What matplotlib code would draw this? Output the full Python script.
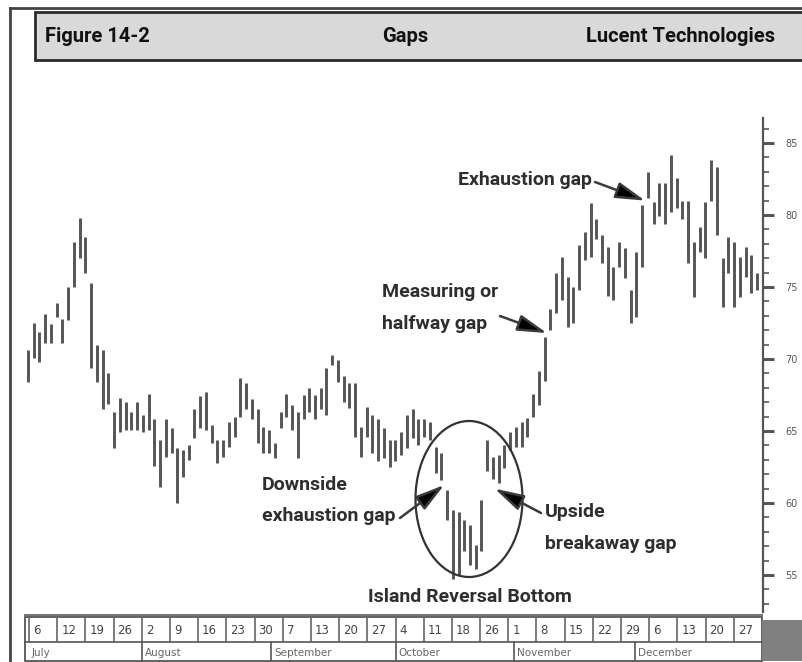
import matplotlib
matplotlib.use("Agg")
import matplotlib.pyplot as plt
from matplotlib.patches import Rectangle, Ellipse, FancyArrowPatch
import numpy as np

# ---------------- data ----------------
highs = [70.6, 72.5, 71.9, 73.1, 72.4, 73.9, 72.8, 75.0, 78.1, 79.8,
         78.5, 75.3, 71.0, 70.6, 69.0, 66.3, 67.3, 67.0, 66.3, 67.0,
         66.1, 67.6, 65.8, 64.4, 65.8, 65.2, 63.8, 63.7, 64.0, 66.5,
         67.4, 67.7, 65.4, 64.4, 64.4, 65.6, 66.0, 68.7, 68.3, 67.2,
         66.5, 65.3, 65.1, 64.2, 66.3, 67.6, 66.8, 66.3, 67.5, 68.0,
         67.5, 68.0, 69.4, 70.3, 69.9, 68.8, 68.3, 68.3, 65.3, 66.7,
         66.1, 65.8, 65.2, 64.4, 64.4, 64.9, 66.1, 66.5, 65.8, 65.8,
         65.6, 63.9, 63.5, 60.9, 59.5, 59.4, 58.8, 58.5, 57.1, 60.2,
         64.4, 63.2, 63.3, 64.0, 64.9, 65.3, 65.6, 65.9, 67.6, 69.2,
         71.5, 73.5, 76.0, 77.1, 75.7, 75.0, 77.9, 78.8, 80.8, 79.7,
         78.6, 77.8, 76.4, 78.1, 77.7, 74.8, 77.4, 80.7, 83.0, 80.9,
         82.2, 82.2, 84.2, 82.6, 81.0, 81.0, 78.1, 79.2, 80.9, 83.8,
         83.3, 77.0, 78.5, 78.1, 77.1, 77.8, 77.2, 76.0]
lows = [68.4, 70.1, 69.8, 71.1, 71.1, 72.9, 71.1, 72.7, 75.0, 77.0,
        76.0, 69.4, 68.4, 66.5, 66.9, 63.8, 64.9, 65.1, 65.1, 65.1,
        64.9, 65.1, 62.6, 61.1, 63.2, 63.5, 60.0, 61.8, 63.0, 64.5,
        65.2, 65.1, 64.2, 62.8, 63.2, 63.9, 64.6, 66.0, 66.5, 65.8,
        64.2, 63.5, 63.5, 63.1, 65.2, 66.0, 65.1, 63.1, 65.8, 66.3,
        65.8, 66.5, 66.1, 69.6, 68.4, 67.0, 66.6, 64.6, 63.2, 64.6,
        63.5, 62.9, 63.1, 62.5, 62.9, 63.3, 63.8, 64.5, 64.0, 64.6,
        64.4, 62.1, 61.6, 58.8, 54.7, 55.0, 56.7, 55.7, 55.4, 56.7,
        62.2, 61.7, 61.4, 62.4, 63.7, 63.9, 63.9, 64.6, 66.0, 66.8,
        68.5, 72.0, 73.2, 74.1, 72.2, 72.5, 74.8, 76.9, 77.1, 78.3,
        76.7, 74.4, 74.1, 76.4, 75.6, 72.5, 72.9, 76.4, 81.2, 79.4,
        79.9, 79.4, 80.2, 80.5, 79.7, 76.7, 74.3, 77.4, 77.0, 81.0,
        78.6, 73.6, 76.0, 73.6, 74.3, 75.7, 74.6, 74.8]

week_labels = ['6', '12', '19', '26', '2', '9', '16', '23', '30', '7', '13', '20', '27',
               '4', '11', '18', '26', '1', '8', '15', '22', '29', '6', '13', '20', '27']
months = ['July', 'August', 'September', 'October', 'November', 'December']
month_start_week = [0, 4, 8.6, 13, 17.2, 21.5]
price_ticks = [55, 60, 65, 70, 75, 80, 85]

title_left = 'Figure 14-2'
title_mid = 'Gaps'
title_right = 'Lucent Technologies'

# ---------------- figure ----------------
W, H = 802, 662
fig = plt.figure(figsize=(W / 100, H / 100), dpi=100)
fig.patch.set_facecolor('white')

COND = ['Roboto', 'DejaVu Sans']
TXT = '#2e2e2e'

# main price axes (pixel extent: x 25..763, y 118..612)
ax_l, ax_r, ax_t, ax_b = 25, 763, 118, 612
ax = fig.add_axes([ax_l / W, 1 - ax_b / H, (ax_r - ax_l) / W, (ax_b - ax_t) / H])
n = len(highs)
idx = np.arange(n)
step = 729 / (n - 1)
ax.set_xlim((ax_l - 28) / step, (ax_r - 28) / step)
ppu = 14.4  # pixels per price unit
ax.set_ylim(85 - (ax_b - 143) / ppu, 85 + (143 - ax_t) / ppu)
ax.vlines(idx, lows, highs, colors='#555555', linewidth=2.1)

for s in ['left', 'top', 'bottom']:
    ax.spines[s].set_visible(False)
ax.spines['right'].set_color('#555555')
ax.spines['right'].set_linewidth(1.6)
ax.set_xticks([])
ax.yaxis.tick_right()
ax.set_yticks(price_ticks)
ax.set_yticklabels([str(v) for v in price_ticks])
ax.set_yticks(np.arange(53, 87, 1), minor=True)
ax.tick_params(axis='y', which='major', direction='out', length=8, width=2.2,
               color='#555555', pad=8, labelsize=7, labelcolor='#555555')
ax.tick_params(axis='y', which='minor', direction='out', length=4, width=1.3,
               color='#666666')
ax.patch.set_alpha(0)

# overlay in pixel coordinates
ov = fig.add_axes([0, 0, 1, 1])
ov.set_xlim(0, W)
ov.set_ylim(H, 0)
ov.axis('off')
ov.patch.set_alpha(0)
ov.set_zorder(5)

# outer frame lines
ov.plot([10, W], [8, 8], color='#444444', lw=2)
ov.plot([10, 10], [8, H], color='#444444', lw=2)

# header
ov.add_patch(Rectangle((35, 12), W - 35 + 5, 48, facecolor='#d9d9d9',
                       edgecolor='#2a2a2a', lw=2))
hy = 36
hfs = 14.5
ov.text(45, hy, title_left, ha='left', va='center', fontsize=hfs, fontweight='bold',
        family=COND, color='#111111')
ov.text(405, hy, title_mid, ha='center', va='center', fontsize=hfs, fontweight='bold',
        family=COND, color='#111111')
ov.text(775, hy, title_right, ha='right', va='center', fontsize=hfs, fontweight='bold',
        family=COND, color='#111111')

# date table
t_left, t_x0, t_x1 = 25, 29, 762
t_top, t_mid, t_bot = 617, 642, 661
nweeks = len(week_labels)
wk = (t_x1 - t_x0) / nweeks
ov.plot([t_left, t_x1], [t_top - 2, t_top - 2], color='#777777', lw=1.5)
ov.add_patch(Rectangle((t_left, t_top), t_x1 - t_left, t_bot - t_top,
                       facecolor='white', edgecolor='#555555', lw=1.3))
ov.plot([t_left, t_x1], [t_mid, t_mid], color='#555555', lw=1.2)
for k, lab in enumerate(week_labels):
    x0 = t_x0 + k * wk
    ov.plot([x0, x0], [t_top, t_mid], color='#666666', lw=1.2)
    ov.text(x0 + 4, (t_top + t_mid) / 2 + 1, lab, ha='left', va='center',
            fontsize=8.5, color='#444444')
for m, ws in zip(months, month_start_week):
    x0 = t_x0 + ws * wk
    if ws > 0:
        ov.plot([x0, x0], [t_mid, t_bot], color='#555555', lw=1.2)
    ov.text(x0 + 3, (t_mid + t_bot) / 2 + 1, m, ha='left', va='center',
            fontsize=7.5, color='#666666')
ov.add_patch(Rectangle((t_x1, t_top + 3), W - t_x1, t_bot - t_top - 3,
                       facecolor='#808080', edgecolor='none'))


def to_px(x, y):
    p = ax.transData.transform((x, y))
    return ov.transData.inverted().transform(p)


# island ellipse
ov.add_patch(Ellipse((469, 499), 107, 156, facecolor='none', edgecolor='#333333', lw=1.6))


def arrow(start, tip):
    a = FancyArrowPatch(start, tip, arrowstyle='-|>,head_length=0.9,head_width=0.25',
                        mutation_scale=20, color='#3a3a3a', lw=1.8,
                        shrinkA=0, shrinkB=0)
    a.set_facecolor('black')
    ov.add_patch(a)


afs = 14
kw = dict(ha='left', va='center', fontsize=afs, fontweight='bold', family=COND, color=TXT)
ov.text(458, 180, 'Exhaustion gap', **kw)
arrow((595, 182), to_px(107.5, 81.0))

ov.text(382, 292, 'Measuring or', **kw)
ov.text(382, 324, 'halfway gap', **kw)
arrow((500, 316), to_px(90.4, 71.8))

ov.text(262, 485, 'Downside', **kw)
ov.text(262, 516, 'exhaustion gap', **kw)
arrow((400, 518), to_px(72.5, 61.25))

ov.text(545, 512, 'Upside', **kw)
ov.text(545, 544, 'breakaway gap', **kw)
arrow((541, 513), to_px(81.3, 61.0))

kw_c = dict(kw)
kw_c['ha'] = 'center'
ov.text(470, 597, 'Island Reversal Bottom', **kw_c)

fig.savefig('out.png', dpi=100)
